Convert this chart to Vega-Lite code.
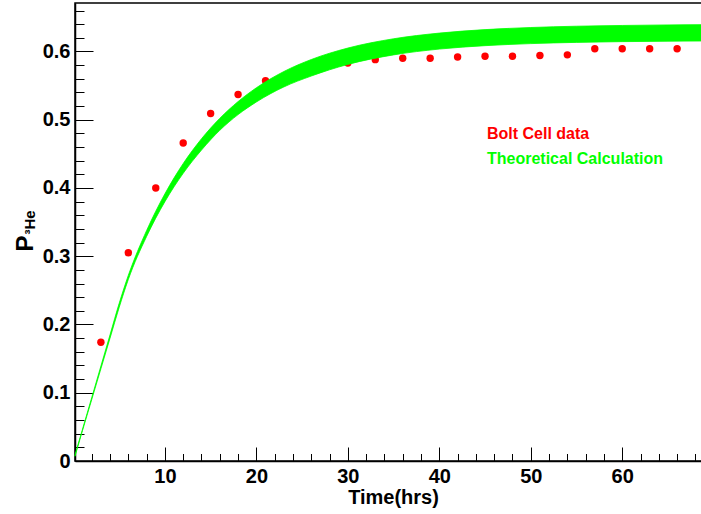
{
  "$schema": "https://vega.github.io/schema/vega-lite/v6.json",
  "width": 627,
  "height": 458,
  "autosize": {"type": "none"},
  "padding": {"left": 75, "top": 3, "right": -1, "bottom": 53},
  "background": "white",
  "config": {
    "font": "Liberation Sans",
    "view": {"stroke": "black", "strokeWidth": 1.5},
    "axis": {"grid": false, "labelFlush": false, "labelOverlap": false, "tickColor": "black", "domainColor": "black", "labelColor": "black", "titleColor": "black"}
  },
  "datasets": {
    "points": [
      {"t": 3, "p": 0.174}, {"t": 6, "p": 0.305}, {"t": 9, "p": 0.400}, {"t": 12, "p": 0.466},
      {"t": 15, "p": 0.509}, {"t": 18, "p": 0.537}, {"t": 21, "p": 0.557}, {"t": 24, "p": 0.566},
      {"t": 27, "p": 0.575}, {"t": 30, "p": 0.583}, {"t": 33, "p": 0.588}, {"t": 36, "p": 0.590},
      {"t": 39, "p": 0.590}, {"t": 42, "p": 0.592}, {"t": 45, "p": 0.593}, {"t": 48, "p": 0.593},
      {"t": 51, "p": 0.594}, {"t": 54, "p": 0.595}, {"t": 57, "p": 0.604}, {"t": 60, "p": 0.604},
      {"t": 63, "p": 0.604}, {"t": 66, "p": 0.604}
    ],
    "band": [
      {"t": 0.17, "lower": 0.007, "upper": 0.009},
      {"t": 1, "lower": 0.045, "upper": 0.047},
      {"t": 2, "lower": 0.090, "upper": 0.093},
      {"t": 3, "lower": 0.135, "upper": 0.139},
      {"t": 4, "lower": 0.180, "upper": 0.185},
      {"t": 5, "lower": 0.225, "upper": 0.231},
      {"t": 6, "lower": 0.266, "upper": 0.272},
      {"t": 8, "lower": 0.329, "upper": 0.3377},
      {"t": 10, "lower": 0.380, "upper": 0.3915},
      {"t": 12, "lower": 0.4215, "upper": 0.4358},
      {"t": 14, "lower": 0.4555, "upper": 0.4721},
      {"t": 16, "lower": 0.4845, "upper": 0.5020},
      {"t": 18, "lower": 0.5075, "upper": 0.5266},
      {"t": 20, "lower": 0.5260, "upper": 0.5468},
      {"t": 23, "lower": 0.5480, "upper": 0.5706},
      {"t": 26, "lower": 0.5640, "upper": 0.5882},
      {"t": 30, "lower": 0.5810, "upper": 0.6050},
      {"t": 35, "lower": 0.5950, "upper": 0.6186},
      {"t": 40, "lower": 0.6035, "upper": 0.6269},
      {"t": 45, "lower": 0.6085, "upper": 0.6320},
      {"t": 50, "lower": 0.6115, "upper": 0.6351},
      {"t": 55, "lower": 0.6133, "upper": 0.6370},
      {"t": 60, "lower": 0.6144, "upper": 0.6381},
      {"t": 65, "lower": 0.6150, "upper": 0.6389},
      {"t": 68.72, "lower": 0.6153, "upper": 0.6393}
    ]
  },
  "layer": [
    {
      "data": {"name": "points"},
      "mark": {"type": "circle", "size": 55, "opacity": 1},
      "encoding": {
        "x": {
          "field": "t", "type": "quantitative",
          "scale": {"domain": [0.17, 68.72], "nice": false, "zero": false},
          "axis": {
            "orient": "bottom", "values": [10, 20, 30, 40, 50, 60],
            "tickSize": -14, "tickWidth": 1, "domainWidth": 1.5,
            "labelFontSize": 20, "labelFontWeight": "bold", "labelPadding": 19,
            "title": "Time(hrs)", "titleFontSize": 20, "titleFontWeight": "bold",
            "titleX": 318, "titleY": 42, "titleBaseline": "alphabetic", "titleAlign": "center"
          }
        },
        "y": {
          "field": "p", "type": "quantitative",
          "scale": {"domain": [0, 0.671], "nice": false, "zero": false},
          "axis": {
            "orient": "left", "values": [0, 0.1, 0.2, 0.3, 0.4, 0.5, 0.6],
            "labelExpr": "datum.value == 0 ? '0' : format(datum.value, '.1f')",
            "tickSize": -18, "tickWidth": 1, "domainWidth": 1.5,
            "labelFontSize": 20, "labelFontWeight": "bold", "labelPadding": 23,
            "title": "P", "titleFontSize": 24, "titleFontWeight": "bold",
            "titleX": -50, "titleY": 240, "titleAngle": 270, "titleAlign": "center", "titleBaseline": "middle"
          }
        },
        "color": {
          "datum": "Bolt Cell data", "type": "nominal",
          "scale": {"domain": ["Bolt Cell data", "Theoretical Calculation"], "range": ["#ff0000", "#00ff00"]},
          "legend": {
            "orient": "none", "legendX": 396, "legendY": 123, "title": null,
            "symbolSize": 0, "symbolOpacity": 0, "symbolStrokeWidth": 0, "labelOffset": 0,
            "labelFontSize": 16, "labelFontWeight": "bold", "labelFont": "Liberation Sans", "labelLimit": 0,
            "rowPadding": 9, "padding": 0,
            "encode": {"labels": {"update": {"fill": {"signal": "datum.label === 'Bolt Cell data' ? '#ff0000' : '#00ff00'"}}}}
          }
        }
      }
    },
    {
      "data": {"name": "band"},
      "mark": {"type": "area", "interpolate": "monotone", "opacity": 1, "stroke": "#00ff00", "strokeWidth": 0.8},
      "encoding": {
        "x": {
          "field": "t", "type": "quantitative",
          "axis": {
            "orient": "bottom", "values": [2, 4, 6, 8, 12, 14, 16, 18, 22, 24, 26, 28, 32, 34, 36, 38, 42, 44, 46, 48, 52, 54, 56, 58, 62, 64, 66, 68],
            "tickSize": -7.5, "tickWidth": 1, "domain": false, "labels": false, "title": null
          }
        },
        "y": {
          "field": "upper", "type": "quantitative",
          "axis": {
            "orient": "left", "values": [0.02, 0.04, 0.06, 0.08, 0.12, 0.14, 0.16, 0.18, 0.22, 0.24, 0.26, 0.28, 0.32, 0.34, 0.36, 0.38, 0.42, 0.44, 0.46, 0.48, 0.52, 0.54, 0.56, 0.58, 0.62, 0.64, 0.66],
            "tickSize": -9, "tickWidth": 1, "domain": false, "labels": false,
            "title": "³He", "titleFontSize": 15, "titleFontWeight": "bold",
            "titleX": -46, "titleY": 219, "titleAngle": 270, "titleAlign": "center", "titleBaseline": "middle"
          }
        },
        "y2": {"field": "lower"},
        "color": {"datum": "Theoretical Calculation", "type": "nominal"}
      }
    }
  ],
  "resolve": {"axis": {"x": "independent", "y": "independent"}}
}
